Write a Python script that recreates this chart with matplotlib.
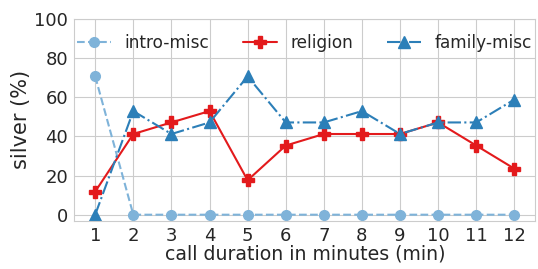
import matplotlib
matplotlib.use("Agg")
import matplotlib.pyplot as plt
import seaborn as sns

sns.set_style("whitegrid")
plt.rcParams['font.family'] = ['DejaVu Sans']

minutes = list(range(1, 13))
intro_misc = [70.6, 0, 0, 0, 0, 0, 0, 0, 0, 0, 0, 0]
religion = [11.8, 41.2, 47.1, 52.9, 17.6, 35.3, 41.2, 41.2, 41.2, 47.1, 35.3, 23.5]
family_misc = [0, 52.9, 41.2, 47.1, 70.6, 47.1, 47.1, 52.9, 41.2, 47.1, 47.1, 58.8]

fig, ax = plt.subplots(figsize=(5.38, 2.69), dpi=100)

ax.plot(minutes, intro_misc, ls="--", marker="o", color="#7fb3d9", ms=7, lw=1.5, label="intro-misc")
ax.plot(minutes, religion, ls="-", marker="P", color="#e31a1c", ms=8, lw=1.5, label="religion")
ax.plot(minutes, family_misc, ls="-.", marker="^", color="#2c7fb8", ms=8, lw=1.5, label="family-misc")

ax.set_ylim(-3, 100)
ax.set_xticks(minutes)
ax.set_yticks([0, 20, 40, 60, 80, 100])
ax.tick_params(labelsize=13, pad=1)
ax.set_xlabel("call duration in minutes (min)", fontsize=13.6, labelpad=0)
ax.set_ylabel("silver (%)", fontsize=15, labelpad=2)
ax.legend(loc="upper center", ncol=3, frameon=False, fontsize=12.2,
          bbox_to_anchor=(0.5, 1.0))

fig.subplots_adjust(left=0.138, right=0.995, top=0.93, bottom=0.18)
fig.savefig("out.png", dpi=100)
